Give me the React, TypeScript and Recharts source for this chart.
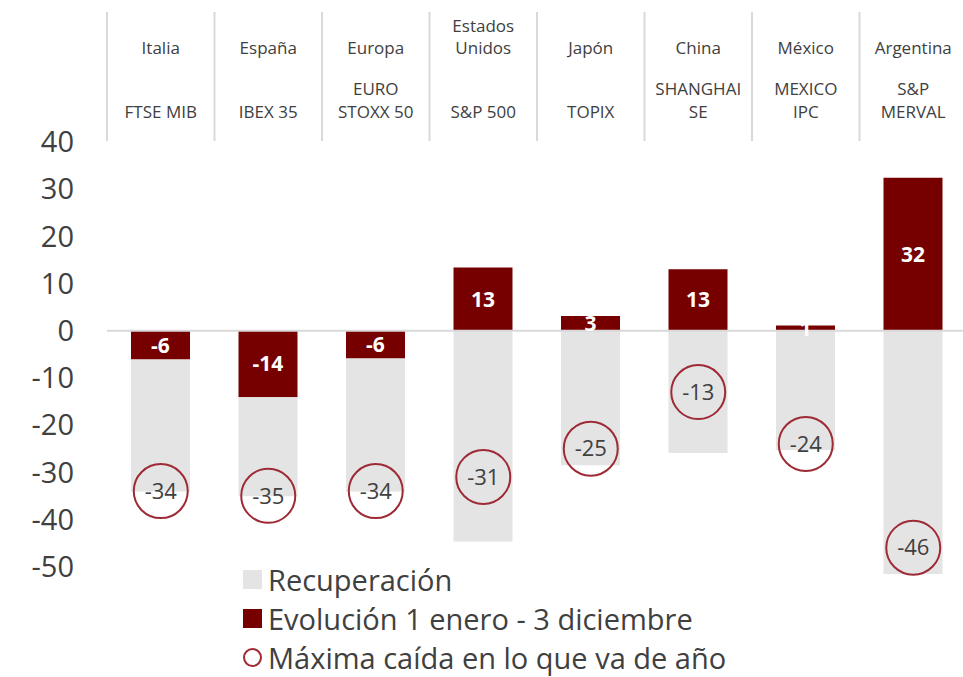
import {
  ComposedChart,
  Bar,
  Scatter,
  XAxis,
  YAxis,
  ReferenceLine,
  LabelList,
} from "recharts";

const countries = [
  "Italia",
  "España",
  "Europa",
  "Estados Unidos",
  "Japón",
  "China",
  "México",
  "Argentina",
];
// header lines per category (line breaks as in the original)
const countryLines = [
  ["Italia"],
  ["España"],
  ["Europa"],
  ["Estados", "Unidos"],
  ["Japón"],
  ["China"],
  ["México"],
  ["Argentina"],
];
const indexLines = [
  ["FTSE MIB"],
  ["IBEX 35"],
  ["EURO", "STOXX 50"],
  ["S&P 500"],
  ["TOPIX"],
  ["SHANGHAI", "SE"],
  ["MEXICO", "IPC"],
  ["S&P", "MERVAL"],
];
const evolucion = [-6.1, -14.1, -5.9, 13.4, 3.1, 13.0, 1.1, 32.4];
const recuperacion = [-28.0, -21.0, -28.2, -44.7, -28.5, -25.9, -25.3, -51.6];
const maximaCaida = [-34, -35, -34, -31, -25, -13, -24, -46];
const yTicks = [-50, -40, -30, -20, -10, 0, 10, 20, 30, 40];

const RED = "#760000";
const GREY = "#e4e4e4";
const RING = "#9e2a36";
const TEXT = "#404040";
const FONT = "'Open Sans', sans-serif";

const data = countries.map((name, i) => ({
  name,
  evolucion: evolucion[i],
  recuperacion: recuperacion[i],
  caida: maximaCaida[i],
}));

const CHART_W = 970;
const PLOT_LEFT = 107;
const PLOT_RIGHT_MARGIN = 3;
const BAND = (CHART_W - PLOT_LEFT - PLOT_RIGHT_MARGIN) / countries.length;

const HeaderTick = (props: any) => {
  const { x, payload } = props;
  const i = payload.index;
  const cLines = countryLines[i];
  const iLines = indexLines[i];
  return (
    <g>
      <line
        x1={x - BAND / 2}
        x2={x - BAND / 2}
        y1={12}
        y2={141}
        stroke="#d9d9d9"
        strokeWidth={2}
      />
      {cLines.map((t, k) => (
        <text
          key={"c" + k}
          x={x}
          y={48 - 22 * (cLines.length - 1 - k)}
          dy="0.35em"
          textAnchor="middle"
          fontSize={17}
          fontFamily={FONT}
          fill={TEXT}
        >
          {t}
        </text>
      ))}
      {iLines.map((t, k) => (
        <text
          key={"i" + k}
          x={x}
          y={112 - 23 * (iLines.length - 1 - k)}
          dy="0.35em"
          textAnchor="middle"
          fontSize={17}
          fontFamily={FONT}
          fill={TEXT}
        >
          {t}
        </text>
      ))}
    </g>
  );
};

const DropCircle = (props: any) => {
  const { cx, cy, payload } = props;
  if (cx === undefined || cy === undefined) return null;
  return (
    <g>
      <circle cx={cx} cy={cy} r={27} fill="none" stroke={RING} strokeWidth={2} />
      <text
        x={cx}
        y={cy}
        dy="0.35em"
        textAnchor="middle"
        fontSize={22}
        fontFamily={FONT}
        fill={TEXT}
      >
        {payload.caida}
      </text>
    </g>
  );
};

const legendItems = [
  { label: "Recuperación", kind: "square", color: GREY },
  { label: "Evolución 1 enero - 3 diciembre", kind: "square", color: RED },
  { label: "Máxima caída en lo que va de año", kind: "circle", color: RING },
];

export default function App() {
  return (
    <div
      style={{
        position: "absolute",
        left: 0,
        top: 0,
        width: 963,
        height: 677,
        overflow: "hidden",
        background: "#fff",
      }}
    >
      <ComposedChart
        width={CHART_W}
        height={677}
        data={data}
        stackOffset="sign"
        margin={{ top: 12, right: PLOT_RIGHT_MARGIN, left: 0, bottom: 101 }}
      >
        <XAxis
          dataKey="name"
          orientation="top"
          height={130}
          axisLine={false}
          tickLine={false}
          interval={0}
          tick={<HeaderTick />}
        />
        <YAxis
          width={PLOT_LEFT}
          domain={[-52, 40]}
          ticks={yTicks}
          axisLine={false}
          tickLine={false}
          tickMargin={27}
          tick={{ fill: TEXT, fontSize: 29, fontFamily: FONT }}
        />
        <Bar
          dataKey="evolucion"
          stackId="a"
          fill={RED}
          barSize={59}
          isAnimationActive={false}
        >
          <LabelList
            dataKey="evolucion"
            position="center"
            formatter={(v: any) => Math.round(v)}
            fill="#ffffff"
            fontSize={21}
            fontWeight={700}
            fontFamily={FONT}
          />
        </Bar>
        <Bar
          dataKey="recuperacion"
          stackId="a"
          fill={GREY}
          barSize={59}
          isAnimationActive={false}
        />
        <ReferenceLine y={0} stroke="#d9d9d9" strokeWidth={2} />
        <Scatter
          dataKey="caida"
          shape={<DropCircle />}
          isAnimationActive={false}
        />
      </ComposedChart>
      <div
        style={{
          position: "absolute",
          left: 243,
          top: 560,
          fontFamily: FONT,
          fontSize: 29,
          lineHeight: 1,
          color: TEXT,
        }}
      >
        {legendItems.map((it) => (
          <div
            key={it.label}
            style={{ display: "flex", alignItems: "center", height: 39 }}
          >
            {it.kind === "square" ? (
              <span
                style={{
                  width: 19,
                  height: 19,
                  background: it.color,
                  marginRight: 6,
                  flex: "none",
                }}
              />
            ) : (
              <span
                style={{
                  width: 15,
                  height: 15,
                  borderRadius: "50%",
                  border: `2px solid ${it.color}`,
                  marginRight: 6,
                  flex: "none",
                }}
              />
            )}
            <span style={{ whiteSpace: "nowrap", lineHeight: 1 }}>
              {it.label}
            </span>
          </div>
        ))}
      </div>
    </div>
  );
}
